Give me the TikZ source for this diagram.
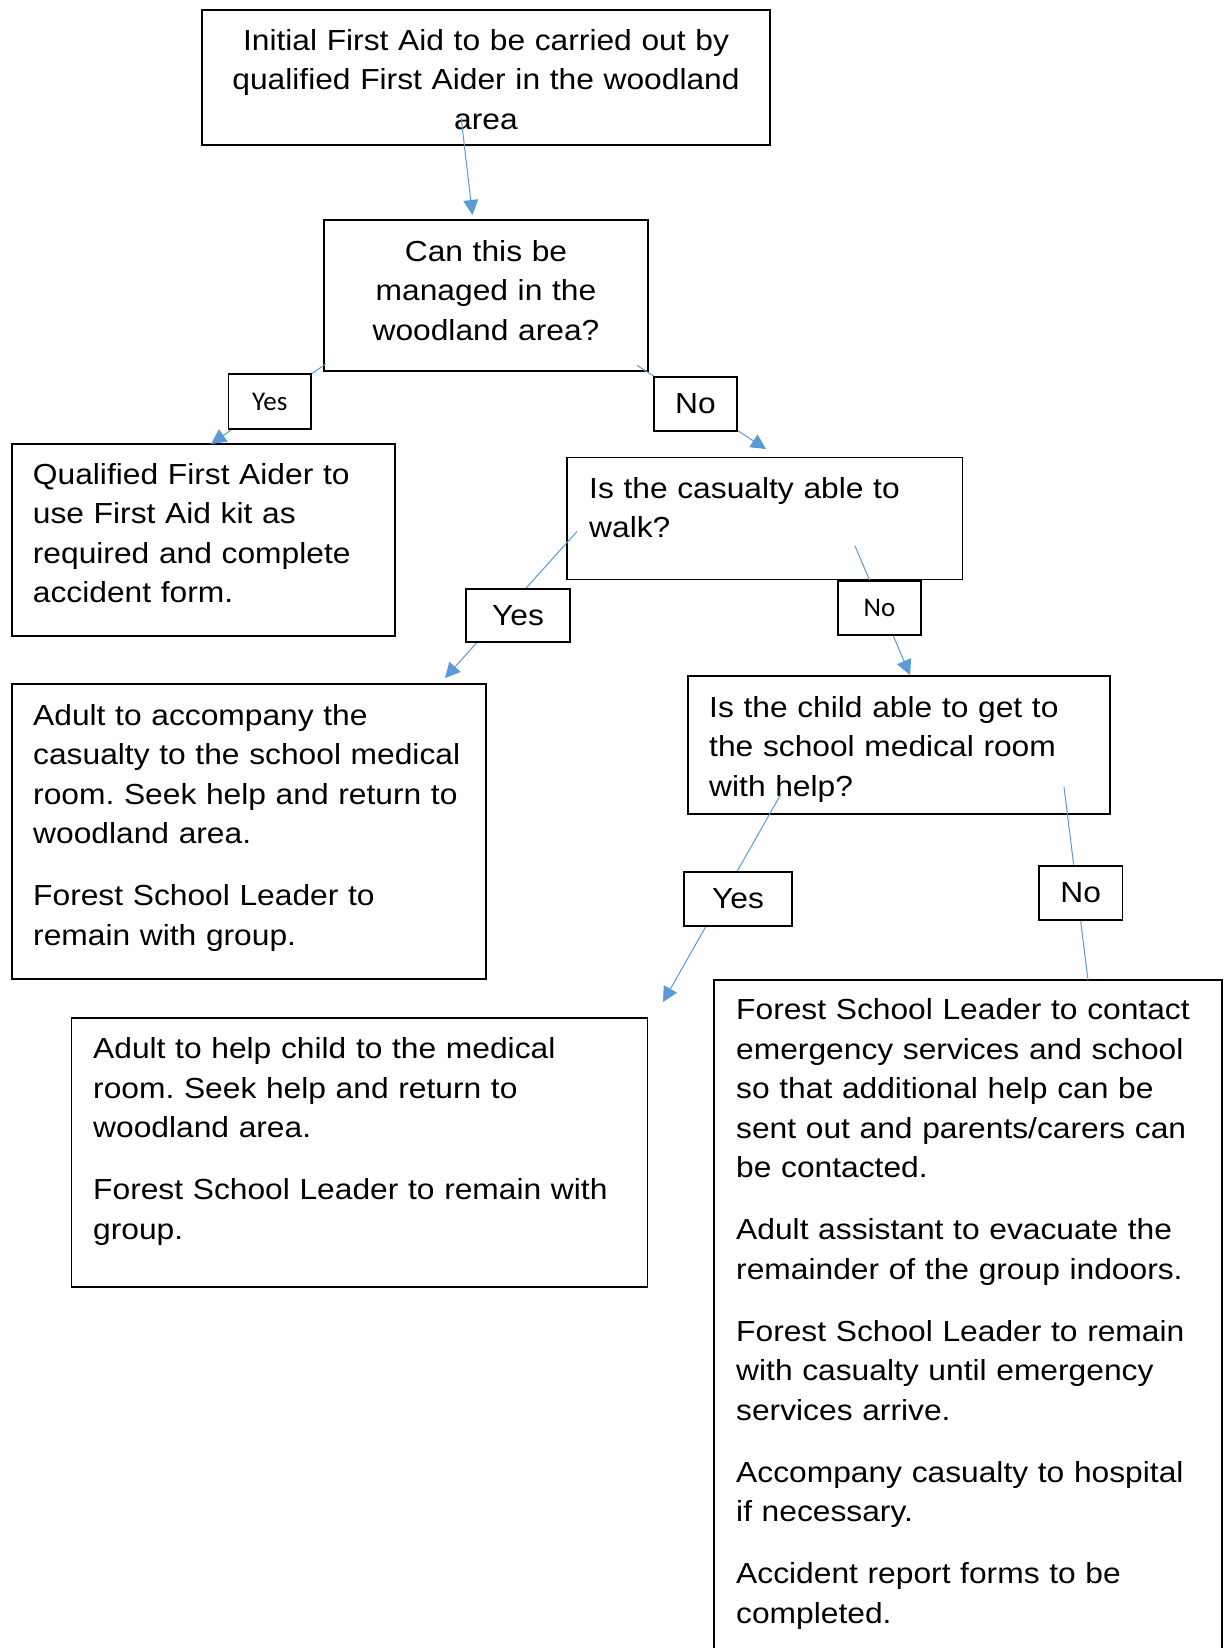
\documentclass[tikz,border=0pt]{standalone}
\usepackage{fontspec}
\setmainfont{Liberation Sans}[FakeStretch=1.095]
\newfontfamily\calib{Carlito}
\usetikzlibrary{arrows.meta}
\definecolor{conblue}{HTML}{5B9BD5}
\frenchspacing
\begin{document}
\begin{tikzpicture}[x=1pt,y=-1pt,
  box/.style={draw=black,line width=1.6pt,inner sep=0pt,outer sep=0pt,anchor=north west},
  txt/.style={inner sep=0pt,anchor=north west,align=left,text width=600pt,font=\fontsize{29}{39.5}\selectfont},
  ctxt/.style={inner sep=0pt,anchor=north,align=center,font=\fontsize{29}{39.5}\selectfont},
  lbl/.style={draw=black,line width=1.6pt,fill=white,inner sep=0pt,font=\fontsize{29}{34}\selectfont},
  slbl/.style={lbl,font=\calib\fontsize{27}{32}\selectfont},
  conn/.style={draw=conblue,line width=1pt,-{Triangle[length=15pt,width=15pt]}},
  plainconn/.style={draw=conblue,line width=1pt}]
\useasboundingbox (0,0) rectangle (1228,1648);
\fill[white] (0,0) rectangle (1228,1648);
% boxes
\node[box,minimum width=568pt,minimum height=135pt] (b1) at (202,10) {};
\node[box,minimum width=324pt,minimum height=151pt] (b2) at (324,220) {};
\node[box,minimum width=383pt,minimum height=192pt] (b3) at (12,444) {};
\node[box,minimum width=395.5pt,minimum height=122pt] (b4) at (567,457.5) {};
\node[box,minimum width=474pt,minimum height=295pt] (b5) at (12,684) {};
\node[box,minimum width=422pt,minimum height=138pt] (b6) at (688,676) {};
\node[box,minimum width=576pt,minimum height=269pt] (b7) at (71.5,1018) {};
\node[box,minimum width=508pt,minimum height=700pt] (b8) at (714,980) {};
% texts
\node[ctxt,text width=568pt] (t1) at (486,20) {\rule{0pt}{30pt}Initial First Aid to be carried out by\\qualified First Aider in the woodland\\area};
\node[ctxt,text width=324pt] (t2) at (486,231) {\rule{0pt}{30pt}Can this be\\managed in the\\woodland area?};
\node[txt] (t3) at (32.7,454) {\rule{0pt}{30pt}Qualified First Aider to\\use First Aid kit as\\required and complete\\accident form.};
\node[txt] (t4) at (589,468) {\rule{0pt}{30pt}Is the casualty able to\\walk?};
\node[txt] (t5) at (33,695) {\rule{0pt}{30pt}Adult to accompany the\\casualty to the school medical\\room. Seek help and return to\\woodland area.\\[22.5pt]Forest School Leader to\\remain with group.};
\node[txt] (t6) at (709,687) {\rule{0pt}{30pt}Is the child able to get to\\the school medical room\\with help?};
\node[txt] (t7) at (93,1028.5) {\rule{0pt}{30pt}Adult to help child to the medical\\room. Seek help and return to\\woodland area.\\[22.5pt]Forest School Leader to remain with\\group.};
\node[txt] (t8) at (736,989.5) {\rule{0pt}{30pt}Forest School Leader to contact\\emergency services and school\\so that additional help can be\\sent out and parents/carers can\\be contacted.\\[22.5pt]Adult assistant to evacuate the\\remainder of the group indoors.\\[22.5pt]Forest School Leader to remain\\with casualty until emergency\\services arrive.\\[22.5pt]Accompany casualty to hospital\\if necessary.\\[22.5pt]Accident report forms to be\\completed.};
% connector end points
\coordinate (a1s) at (461,117);  \coordinate (a1e) at (472.5,215);
\coordinate (a2s) at (325.7,364); \coordinate (a2e) at (211,444);
\coordinate (a3s) at (637,365.3); \coordinate (a3e) at (766,449);
\coordinate (a4s) at (577,531.5); \coordinate (a4e) at (445,678);
\coordinate (a5s) at (855,546);   \coordinate (a5e) at (910,675);
\coordinate (a6s) at (781,794);   \coordinate (a6e) at (663,1002);
\coordinate (a7s) at (1064,787);  \coordinate (a7e) at (1088,980);
% connectors
\draw[conn] (a1s) -- (a1e);
\draw[conn] (a2s) -- (a2e);
\draw[conn] (a3s) -- (a3e);
\draw[conn] (a4s) -- (a4e);
\draw[conn] (a5s) -- (a5e);
\draw[conn] (a6s) -- (a6e);
\draw[plainconn] (a7s) -- (a7e);
% labels
\node[slbl,minimum width=82.4pt,minimum height=55pt] (y1) at (269.8,401.5) {Yes};
\node[lbl,minimum width=83pt,minimum height=54pt] (n1) at (695.5,404) {No};
\node[lbl,minimum width=104pt,minimum height=53pt] (y2) at (518,615.5) {Yes};
\node[slbl,minimum width=83pt,minimum height=54pt] (n2) at (879.5,608) {No};
\node[lbl,minimum width=108.5pt,minimum height=54pt] (y3) at (738,899) {Yes};
\node[lbl,minimum width=83.5pt,minimum height=54pt] (n3) at (1080.7,893) {No};
\end{tikzpicture}
\end{document}
